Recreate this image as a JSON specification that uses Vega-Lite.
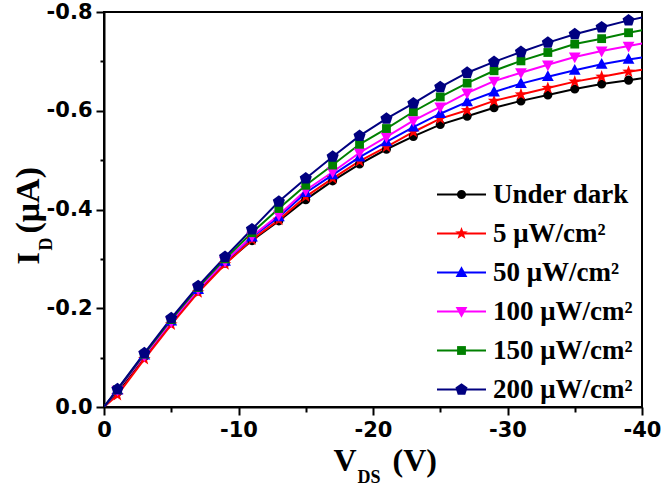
{
  "$schema": "https://vega.github.io/schema/vega-lite/v6.json",
  "width": 538,
  "height": 395,
  "autosize": {"type": "none"},
  "padding": {"left": 104, "top": 12, "right": 19, "bottom": 79},
  "background": "white",
  "config": {
    "view": {"stroke": "black", "strokeWidth": 2},
    "axis": {"grid": false}
  },
  "data": {"values": [
    {"V":0,"I":0,"S":"Under dark","o":0},{"V":-1,"I":-0.030,"S":"Under dark","o":0},{"V":-3,"I":-0.102,"S":"Under dark","o":0},{"V":-5,"I":-0.172,"S":"Under dark","o":0},{"V":-7,"I":-0.235,"S":"Under dark","o":0},{"V":-9,"I":-0.291,"S":"Under dark","o":0},{"V":-11,"I":-0.337,"S":"Under dark","o":0},{"V":-13,"I":-0.377,"S":"Under dark","o":0},{"V":-15,"I":-0.420,"S":"Under dark","o":0},{"V":-17,"I":-0.458,"S":"Under dark","o":0},{"V":-19,"I":-0.492,"S":"Under dark","o":0},{"V":-21,"I":-0.522,"S":"Under dark","o":0},{"V":-23,"I":-0.548,"S":"Under dark","o":0},{"V":-25,"I":-0.572,"S":"Under dark","o":0},{"V":-27,"I":-0.589,"S":"Under dark","o":0},{"V":-29,"I":-0.606,"S":"Under dark","o":0},{"V":-31,"I":-0.620,"S":"Under dark","o":0},{"V":-33,"I":-0.632,"S":"Under dark","o":0},{"V":-35,"I":-0.644,"S":"Under dark","o":0},{"V":-37,"I":-0.654,"S":"Under dark","o":0},{"V":-39,"I":-0.662,"S":"Under dark","o":0},{"V":-40,"I":-0.666,"S":"Under dark","o":0},
    {"V":0,"I":0,"S":"5 μW/cm²","o":1},{"V":-1,"I":-0.024,"S":"5 μW/cm²","o":1},{"V":-3,"I":-0.097,"S":"5 μW/cm²","o":1},{"V":-5,"I":-0.167,"S":"5 μW/cm²","o":1},{"V":-7,"I":-0.232,"S":"5 μW/cm²","o":1},{"V":-9,"I":-0.289,"S":"5 μW/cm²","o":1},{"V":-11,"I":-0.339,"S":"5 μW/cm²","o":1},{"V":-13,"I":-0.379,"S":"5 μW/cm²","o":1},{"V":-15,"I":-0.426,"S":"5 μW/cm²","o":1},{"V":-17,"I":-0.463,"S":"5 μW/cm²","o":1},{"V":-19,"I":-0.498,"S":"5 μW/cm²","o":1},{"V":-21,"I":-0.527,"S":"5 μW/cm²","o":1},{"V":-23,"I":-0.557,"S":"5 μW/cm²","o":1},{"V":-25,"I":-0.584,"S":"5 μW/cm²","o":1},{"V":-27,"I":-0.601,"S":"5 μW/cm²","o":1},{"V":-29,"I":-0.620,"S":"5 μW/cm²","o":1},{"V":-31,"I":-0.633,"S":"5 μW/cm²","o":1},{"V":-33,"I":-0.646,"S":"5 μW/cm²","o":1},{"V":-35,"I":-0.659,"S":"5 μW/cm²","o":1},{"V":-37,"I":-0.669,"S":"5 μW/cm²","o":1},{"V":-39,"I":-0.679,"S":"5 μW/cm²","o":1},{"V":-40,"I":-0.683,"S":"5 μW/cm²","o":1},
    {"V":0,"I":0,"S":"50 μW/cm²","o":2},{"V":-1,"I":-0.034,"S":"50 μW/cm²","o":2},{"V":-3,"I":-0.105,"S":"50 μW/cm²","o":2},{"V":-5,"I":-0.174,"S":"50 μW/cm²","o":2},{"V":-7,"I":-0.238,"S":"50 μW/cm²","o":2},{"V":-9,"I":-0.295,"S":"50 μW/cm²","o":2},{"V":-11,"I":-0.344,"S":"50 μW/cm²","o":2},{"V":-13,"I":-0.385,"S":"50 μW/cm²","o":2},{"V":-15,"I":-0.434,"S":"50 μW/cm²","o":2},{"V":-17,"I":-0.470,"S":"50 μW/cm²","o":2},{"V":-19,"I":-0.506,"S":"50 μW/cm²","o":2},{"V":-21,"I":-0.537,"S":"50 μW/cm²","o":2},{"V":-23,"I":-0.567,"S":"50 μW/cm²","o":2},{"V":-25,"I":-0.594,"S":"50 μW/cm²","o":2},{"V":-27,"I":-0.618,"S":"50 μW/cm²","o":2},{"V":-29,"I":-0.638,"S":"50 μW/cm²","o":2},{"V":-31,"I":-0.655,"S":"50 μW/cm²","o":2},{"V":-33,"I":-0.669,"S":"50 μW/cm²","o":2},{"V":-35,"I":-0.682,"S":"50 μW/cm²","o":2},{"V":-37,"I":-0.694,"S":"50 μW/cm²","o":2},{"V":-39,"I":-0.704,"S":"50 μW/cm²","o":2},{"V":-40,"I":-0.708,"S":"50 μW/cm²","o":2},
    {"V":0,"I":0,"S":"100 μW/cm²","o":3},{"V":-1,"I":-0.034,"S":"100 μW/cm²","o":3},{"V":-3,"I":-0.104,"S":"100 μW/cm²","o":3},{"V":-5,"I":-0.173,"S":"100 μW/cm²","o":3},{"V":-7,"I":-0.238,"S":"100 μW/cm²","o":3},{"V":-9,"I":-0.295,"S":"100 μW/cm²","o":3},{"V":-11,"I":-0.346,"S":"100 μW/cm²","o":3},{"V":-13,"I":-0.389,"S":"100 μW/cm²","o":3},{"V":-15,"I":-0.439,"S":"100 μW/cm²","o":3},{"V":-17,"I":-0.476,"S":"100 μW/cm²","o":3},{"V":-19,"I":-0.515,"S":"100 μW/cm²","o":3},{"V":-21,"I":-0.547,"S":"100 μW/cm²","o":3},{"V":-23,"I":-0.580,"S":"100 μW/cm²","o":3},{"V":-25,"I":-0.608,"S":"100 μW/cm²","o":3},{"V":-27,"I":-0.636,"S":"100 μW/cm²","o":3},{"V":-29,"I":-0.660,"S":"100 μW/cm²","o":3},{"V":-31,"I":-0.677,"S":"100 μW/cm²","o":3},{"V":-33,"I":-0.693,"S":"100 μW/cm²","o":3},{"V":-35,"I":-0.709,"S":"100 μW/cm²","o":3},{"V":-37,"I":-0.721,"S":"100 μW/cm²","o":3},{"V":-39,"I":-0.731,"S":"100 μW/cm²","o":3},{"V":-40,"I":-0.736,"S":"100 μW/cm²","o":3},
    {"V":0,"I":0,"S":"150 μW/cm²","o":4},{"V":-1,"I":-0.035,"S":"150 μW/cm²","o":4},{"V":-3,"I":-0.107,"S":"150 μW/cm²","o":4},{"V":-5,"I":-0.177,"S":"150 μW/cm²","o":4},{"V":-7,"I":-0.242,"S":"150 μW/cm²","o":4},{"V":-9,"I":-0.300,"S":"150 μW/cm²","o":4},{"V":-11,"I":-0.353,"S":"150 μW/cm²","o":4},{"V":-13,"I":-0.402,"S":"150 μW/cm²","o":4},{"V":-15,"I":-0.449,"S":"150 μW/cm²","o":4},{"V":-17,"I":-0.490,"S":"150 μW/cm²","o":4},{"V":-19,"I":-0.532,"S":"150 μW/cm²","o":4},{"V":-21,"I":-0.564,"S":"150 μW/cm²","o":4},{"V":-23,"I":-0.598,"S":"150 μW/cm²","o":4},{"V":-25,"I":-0.628,"S":"150 μW/cm²","o":4},{"V":-27,"I":-0.656,"S":"150 μW/cm²","o":4},{"V":-29,"I":-0.681,"S":"150 μW/cm²","o":4},{"V":-31,"I":-0.701,"S":"150 μW/cm²","o":4},{"V":-33,"I":-0.718,"S":"150 μW/cm²","o":4},{"V":-35,"I":-0.735,"S":"150 μW/cm²","o":4},{"V":-37,"I":-0.746,"S":"150 μW/cm²","o":4},{"V":-39,"I":-0.758,"S":"150 μW/cm²","o":4},{"V":-40,"I":-0.763,"S":"150 μW/cm²","o":4},
    {"V":0,"I":0,"S":"200 μW/cm²","o":5},{"V":-1,"I":-0.036,"S":"200 μW/cm²","o":5},{"V":-3,"I":-0.109,"S":"200 μW/cm²","o":5},{"V":-5,"I":-0.180,"S":"200 μW/cm²","o":5},{"V":-7,"I":-0.245,"S":"200 μW/cm²","o":5},{"V":-9,"I":-0.304,"S":"200 μW/cm²","o":5},{"V":-11,"I":-0.360,"S":"200 μW/cm²","o":5},{"V":-13,"I":-0.416,"S":"200 μW/cm²","o":5},{"V":-15,"I":-0.463,"S":"200 μW/cm²","o":5},{"V":-17,"I":-0.507,"S":"200 μW/cm²","o":5},{"V":-19,"I":-0.549,"S":"200 μW/cm²","o":5},{"V":-21,"I":-0.584,"S":"200 μW/cm²","o":5},{"V":-23,"I":-0.615,"S":"200 μW/cm²","o":5},{"V":-25,"I":-0.648,"S":"200 μW/cm²","o":5},{"V":-27,"I":-0.677,"S":"200 μW/cm²","o":5},{"V":-29,"I":-0.699,"S":"200 μW/cm²","o":5},{"V":-31,"I":-0.719,"S":"200 μW/cm²","o":5},{"V":-33,"I":-0.738,"S":"200 μW/cm²","o":5},{"V":-35,"I":-0.755,"S":"200 μW/cm²","o":5},{"V":-37,"I":-0.769,"S":"200 μW/cm²","o":5},{"V":-39,"I":-0.783,"S":"200 μW/cm²","o":5},{"V":-40,"I":-0.789,"S":"200 μW/cm²","o":5}
  ]},
  "resolve": {"axis": {"x": "independent", "y": "independent"}},
  "layer": [
    {
      "mark": {"type": "line", "strokeWidth": 2, "clip": true},
      "encoding": {
        "x": {"field": "V", "type": "quantitative",
          "scale": {"domain": [-40, 0], "reverse": true, "nice": false, "zero": false},
          "axis": {"orient": "bottom", "values": [0,-5,-10,-15,-20,-25,-30,-35,-40],
            "labelExpr": "abs(round(datum.value)) % 10 == 0 ? (datum.value == 0 ? '0' : '-' + format(abs(datum.value), 'd')) : ''",
            "labelFont": "DejaVu Sans", "labelFontWeight": "bold", "labelFontSize": 21, "labelColor": "black",
            "labelFlush": false, "labelOverlap": false, "labelPadding": 4,
            "domainColor": "black", "domainWidth": 2, "tickColor": "black", "tickWidth": 2,
            "tickSize": {"condition": {"test": "abs(round(datum.value)) % 10 == 0", "value": 8}, "value": 5},
            "title": "V", "titleFont": "Liberation Serif", "titleFontSize": 32, "titleFontWeight": "bold", "titleColor": "black",
            "titleX": 229, "titleY": 63, "titleAlign": "left", "titleBaseline": "alphabetic", "titleAnchor": "start"}},
        "y": {"field": "I", "type": "quantitative",
          "scale": {"domain": [-0.8, 0], "reverse": true, "nice": false, "zero": false},
          "axis": {"orient": "left", "values": [0,-0.1,-0.2,-0.3,-0.4,-0.5,-0.6,-0.7,-0.8],
            "labelExpr": "abs(round(datum.value*10)) % 2 == 0 ? (datum.value == 0 ? '0.0' : '-' + format(abs(datum.value), '.1f')) : ''",
            "labelFont": "DejaVu Sans", "labelFontWeight": "bold", "labelFontSize": 21, "labelColor": "black",
            "labelFlush": false, "labelOverlap": false, "labelPadding": 4,
            "domainColor": "black", "domainWidth": 2, "tickColor": "black", "tickWidth": 2,
            "tickSize": {"condition": {"test": "abs(round(datum.value*10)) % 2 == 0", "value": 8}, "value": 4},
            "title": "I", "titleFont": "Liberation Serif", "titleFontSize": 32, "titleFontWeight": "bold", "titleColor": "black",
            "titleAngle": 270, "titleX": -66, "titleY": 252, "titleAlign": "left", "titleBaseline": "alphabetic", "titleAnchor": "start"}},
        "stroke": {"field": "S", "type": "nominal",
          "scale": {"domain": ["Under dark","5 μW/cm²","50 μW/cm²","100 μW/cm²","150 μW/cm²","200 μW/cm²"],
                    "range": ["#000000","#ff0000","#0000ff","#ff00ff","#008000","#000080"]},
          "legend": {"orient": "none", "legendX": 332, "legendY": 157, "title": null, "padding": 0,
            "symbolType": "stroke", "symbolSize": 2401, "symbolStrokeWidth": 2,
            "labelFont": "Liberation Serif", "labelFontWeight": "bold", "labelFontSize": 27, "labelColor": "black",
            "labelOffset": 6, "rowPadding": -2.2, "labelLimit": 300}}
      }
    },
    {
      "transform": [{"filter": "datum.V != 0 && datum.V != -40"}],
      "mark": {"type": "point", "filled": true, "opacity": 1, "size": 2401, "clip": true},
      "encoding": {
        "x": {"field": "V", "type": "quantitative",
          "axis": {"orient": "bottom", "domain": false, "ticks": false, "labels": false,
            "title": "DS", "titleFont": "Liberation Serif", "titleFontSize": 18, "titleFontWeight": "bold", "titleColor": "black",
            "titleX": 253, "titleY": 75, "titleAlign": "left", "titleBaseline": "alphabetic", "titleAnchor": "start"}},
        "y": {"field": "I", "type": "quantitative",
          "axis": {"orient": "left", "domain": false, "ticks": false, "labels": false,
            "title": "D", "titleFont": "Liberation Serif", "titleFontSize": 18, "titleFontWeight": "bold", "titleColor": "black",
            "titleAngle": 270, "titleX": -53, "titleY": 238, "titleAlign": "left", "titleBaseline": "alphabetic", "titleAnchor": "start"}},
        "fill": {"field": "S", "type": "nominal", "sort": {"field": "o", "op": "min"},
          "scale": {"range": ["#000000","#ff0000","#0000ff","#ff00ff","#008000","#000080"]},
          "legend": {"orient": "none", "legendX": 332, "legendY": 157, "title": null, "padding": 0,
            "symbolSize": 2401, "symbolStrokeWidth": 2, "symbolStrokeColor": "transparent",
            "labelFont": "Liberation Serif", "labelFontWeight": "bold", "labelFontSize": 27, "labelOpacity": 0,
            "labelOffset": 6, "rowPadding": -2.2, "labelLimit": 300}},
        "shape": {"field": "S", "type": "nominal", "sort": {"field": "o", "op": "min"},
          "scale": {"range": [
            "M-0.185,0A0.185,0.185,0,1,0,0.185,0A0.185,0.185,0,1,0,-0.185,0Z",
            "M0,-0.27L0.065,-0.089L0.257,-0.083L0.105,0.034L0.159,0.218L0,0.11L-0.159,0.218L-0.105,0.034L-0.257,-0.083L-0.065,-0.089Z",
            "M0,-0.26L0.24,0.18L-0.24,0.18Z",
            "M0,0.26L0.24,-0.18L-0.24,-0.18Z",
            "M-0.18,-0.18H0.18V0.18H-0.18Z",
            "M0,-0.26L0.247,-0.08L0.153,0.21L-0.153,0.21L-0.247,-0.08Z"
          ]},
          "legend": {"orient": "none", "legendX": 332, "legendY": 157, "title": null, "padding": 0,
            "symbolSize": 2401, "symbolStrokeWidth": 2, "symbolStrokeColor": "transparent",
            "labelFont": "Liberation Serif", "labelFontWeight": "bold", "labelFontSize": 27, "labelOpacity": 0,
            "labelOffset": 6, "rowPadding": -2.2, "labelLimit": 300}}
      }
    },
    {
      "transform": [{"filter": "false"}],
      "mark": {"type": "point", "opacity": 0},
      "encoding": {
        "x": {"field": "V", "type": "quantitative",
          "axis": {"orient": "bottom", "domain": false, "ticks": false, "labels": false,
            "title": "(V)", "titleFont": "Liberation Serif", "titleFontSize": 32, "titleFontWeight": "bold", "titleColor": "black",
            "titleX": 288, "titleY": 63, "titleAlign": "left", "titleBaseline": "alphabetic", "titleAnchor": "start"}},
        "y": {"field": "I", "type": "quantitative",
          "axis": {"orient": "left", "domain": false, "ticks": false, "labels": false,
            "title": "(μA)", "titleFont": "Liberation Serif", "titleFontSize": 34, "titleFontWeight": "bold", "titleColor": "black",
            "titleAngle": 270, "titleX": -66, "titleY": 221, "titleAlign": "left", "titleBaseline": "alphabetic", "titleAnchor": "start"}}
      }
    }
  ]
}
